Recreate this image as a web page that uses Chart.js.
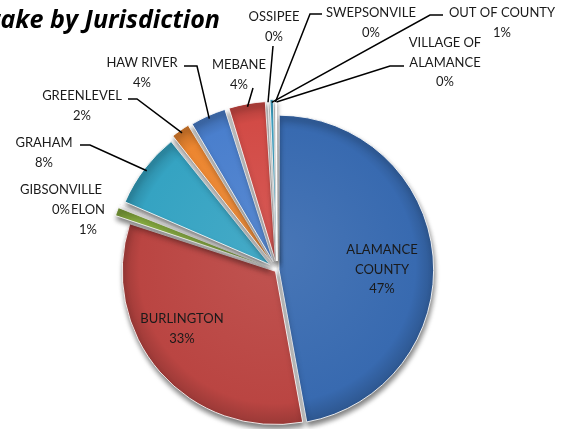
<!DOCTYPE html>
<html>
<head>
<meta charset="utf-8">
<script src="https://cdn.jsdelivr.net/npm/chart.js@4.4.1/dist/chart.umd.min.js"></script>
<style>
  body { margin: 0; background: #fff; }
  #wrap { width: 571px; height: 429px; }
</style>
</head>
<body>
<div id="wrap"><canvas id="jurisdictionChart" width="571" height="429"></canvas></div>
<script>
// ---------------- data ----------------
const jurisdictions = [
  "ALAMANCE COUNTY", "BURLINGTON", "ELON", "GIBSONVILLE", "GRAHAM", "GREENLEVEL",
  "HAW RIVER", "MEBANE", "OSSIPEE", "OUT OF COUNTY", "SWEPSONVILE", "VILLAGE OF ALAMANCE"
];
const intakeCounts = [472, 329, 11, 3, 79, 21, 38, 39, 1, 6, 1, 1];

const sliceColors = [
  "#386AB0", "#BA4542", "#8DB443", "#7A5CA0", "#35A3C2", "#EC8630",
  "#4A7FCD", "#D24B46", "#A3C466", "#45B5DA", "#9B84C0", "#F4A867"
];
const sliceOffsets = [8, 8, 36, 36, 36, 36, 36, 36, 36, 36, 36, 36];

// label placement (text anchor + leader line elbow points)
const labelLayout = [
  { x: 382, y: 250, wrap: 80 },
  { x: 182, y: 319 },
  { x: 88, y: 210 },
  { x: 61, y: 190 },
  { x: 44, y: 143, line: [[80, 145], [90, 145]] },
  { x: 82, y: 96, line: [[128, 99], [137, 99]] },
  { x: 142, y: 63, line: [[184, 66], [197, 66]] },
  { x: 239, y: 65, line: [[253, 88]] },
  { x: 274, y: 17, line: [[273, 46]] },
  { x: 502, y: 13, line: [[443, 15], [430, 15]] },
  { x: 371, y: 13, line: [[322, 14], [310, 14]] },
  { x: 445, y: 43, wrap: 80, line: [[404, 66], [390, 66]] }
];

const total = intakeCounts.reduce((a, b) => a + b, 0);

function shade(hex, amt) {
  const n = parseInt(hex.slice(1), 16);
  let r = (n >> 16) & 255, g = (n >> 8) & 255, b = n & 255;
  const f = c => Math.max(0, Math.min(255, Math.round(amt > 0 ? c + (255 - c) * amt : c * (1 + amt))));
  return "rgb(" + f(r) + "," + f(g) + "," + f(b) + ")";
}

function sliceFill(ctx) {
  const base = sliceColors[ctx.dataIndex];
  const area = ctx.chart.chartArea;
  if (!area) return base;
  const cx = (area.left + area.right) / 2, cy = (area.top + area.bottom) / 2;
  const g = ctx.chart.ctx.createRadialGradient(cx, cy - 20, 0, cx, cy, 175);
  g.addColorStop(0, shade(base, 0.08));
  g.addColorStop(0.78, base);
  g.addColorStop(1, shade(base, -0.35));
  return g;
}

function wrapText(ctx, text, max) {
  if (!max) return [text];
  const words = text.split(" ");
  const lines = [];
  let cur = "";
  words.forEach(w => {
    const t = cur ? cur + " " + w : w;
    if (cur && ctx.measureText(t).width > max) { lines.push(cur); cur = w; }
    else cur = t;
  });
  if (cur) lines.push(cur);
  return lines;
}

function edgePoint(arc, extra) {
  const p = arc.getProps(["x", "y", "startAngle", "endAngle", "outerRadius", "circumference"], true);
  const mid = (p.startAngle + p.endAngle) / 2;
  const off = (arc.options.offset || 0) / 4;
  const fix = 1 - Math.sin(Math.min(Math.PI, p.circumference));
  const r = p.outerRadius + off * fix + off + extra;
  return { x: p.x + Math.cos(mid) * r, y: p.y + Math.sin(mid) * r };
}

const shadowPlugin = {
  id: "shadow3d",
  beforeDatasetsDraw(chart) {
    const c = chart.ctx;
    c.save();
    c.shadowColor = "rgba(0,0,0,0.5)";
    c.shadowBlur = 5;
    c.shadowOffsetX = 1;
    c.shadowOffsetY = 4;
  },
  afterDatasetsDraw(chart) {
    chart.ctx.restore();
  }
};

const labelPlugin = {
  id: "sliceLabels",
  afterDraw(chart) {
    const c = chart.ctx;
    const arcs = chart.getDatasetMeta(0).data;
    c.save();
    // title: the start of it runs off the left edge, as in the original
    const titleFont = "'Open Sans', Lato, sans-serif";
    c.font = "bold italic 22px " + titleFont;
    const size = 22 * 220 / c.measureText("ake by Jurisdiction").width;
    c.font = "bold italic " + size.toFixed(1) + "px " + titleFont;
    c.fillStyle = "#000";
    c.textAlign = "right";
    c.textBaseline = "alphabetic";
    c.fillText("Intake by Jurisdiction", 220, 28);

    c.font = "13px Lato, 'Open Sans', sans-serif";
    c.textAlign = "center";
    c.textBaseline = "middle";
    c.strokeStyle = "#000";
    c.lineWidth = 1.5;
    labelLayout.forEach((lay, i) => {
      const lines = wrapText(c, jurisdictions[i], lay.wrap);
      lines.push(Math.round(intakeCounts[i] / total * 100) + "%");
      c.fillStyle = "#1a1a1a";
      lines.forEach((t, k) => c.fillText(t, lay.x, lay.y + k * 19.5));
      if (lay.line) {
        const end = edgePoint(arcs[i], -3);
        c.beginPath();
        c.moveTo(lay.line[0][0], lay.line[0][1]);
        lay.line.slice(1).forEach(pt => c.lineTo(pt[0], pt[1]));
        c.lineTo(end.x, end.y);
        c.stroke();
      }
    });
    c.restore();
  }
};

const jurisdictionChart = new Chart(document.getElementById("jurisdictionChart"), {
  type: "pie",
  data: {
    labels: jurisdictions,
    datasets: [{
      data: intakeCounts,
      backgroundColor: sliceFill,
      borderColor: "rgba(255,255,255,0.85)",
      borderWidth: 1,
      offset: sliceOffsets,
      radius: 153
    }]
  },
  options: {
    responsive: false,
    animation: false,
    layout: { padding: { left: 0, right: 17, top: 111, bottom: 0 } },
    plugins: {
      legend: { display: false },
      tooltip: { enabled: false },
      title: { display: false }
    }
  },
  plugins: [shadowPlugin, labelPlugin]
});
</script>
</body>
</html>
